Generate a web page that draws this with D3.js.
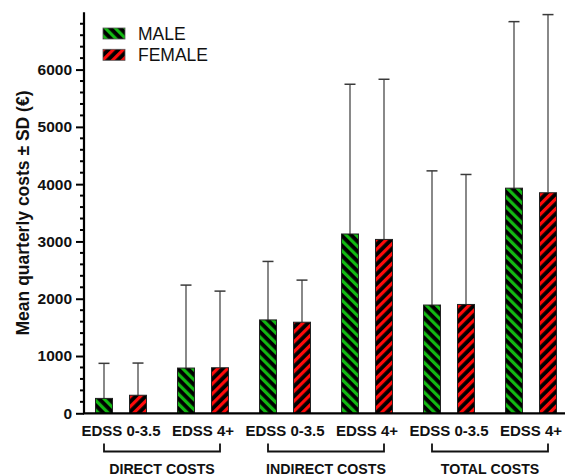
<!DOCTYPE html>
<html>
<head>
<meta charset="utf-8">
<script src="https://cdn.jsdelivr.net/npm/d3@7"></script>
<style>
  body { margin: 0; background: #fff; }
  svg { display: block; font-family: "Liberation Sans", Arial, sans-serif; }
</style>
</head>
<body>
<div id="chart"></div>
<script>
// data
const groups = ["EDSS 0-3.5", "EDSS 4+", "EDSS 0-3.5 ", "EDSS 4+ ", "EDSS 0-3.5  ", "EDSS 4+  "];
const categories = ["DIRECT COSTS", "INDIRECT COSTS", "TOTAL COSTS"];
const series = ["MALE", "FEMALE"];
const maleMean = [260, 790, 1630, 3130, 1890, 3930];
const maleSD = [612, 1448, 1021, 2614, 2342, 2907];
const femaleMean = [315, 795, 1590, 3035, 1900, 3850];
const femaleSD = [562, 1338, 735, 2796, 2269, 3110];
const yTicks = [0, 1000, 2000, 3000, 4000, 5000, 6000];

const W = 565, H = 476;
const colors = { MALE: "#12b812", FEMALE: "#ff0a0a" };

const svg = d3.select("#chart").append("svg")
    .attr("width", W)
    .attr("height", H);

// stripe patterns
const defs = svg.append("defs");
series.forEach(s => {
    const p = defs.append("pattern")
        .attr("id", "hatch-" + s)
        .attr("patternUnits", "userSpaceOnUse")
        .attr("width", 7)
        .attr("height", 8)
        .attr("patternTransform", s === "MALE" ? "rotate(-45)" : "rotate(45)");
    p.append("rect").attr("width", 7).attr("height", 8).attr("fill", "#000");
    p.append("rect").attr("width", 3.2).attr("height", 8).attr("fill", colors[s]);
});

const axisX = 84;
const y = d3.scaleLinear().domain([0, 7000]).range([413.3, 12.3]);

const x0 = d3.scaleBand().domain(groups).range([80, 572]).padding(0);
const x1 = d3.scaleBand().domain(series).range([-25.5, 25.5]).paddingInner(0.5).paddingOuter(0);

const rows = groups.map((g, i) => ({
    group: g,
    bars: [
        { s: "MALE", mean: maleMean[i], sd: maleSD[i] },
        { s: "FEMALE", mean: femaleMean[i], sd: femaleSD[i] }
    ]
}));

// error bars (behind the bars)
const gErr = svg.append("g");
rows.forEach(r => {
    r.bars.forEach(b => {
        const cx = x0(r.group) + x0.bandwidth() / 2 + x1(b.s) + x1.bandwidth() / 2;
        gErr.append("line")
            .attr("x1", cx).attr("x2", cx)
            .attr("y1", y(b.mean)).attr("y2", y(b.mean + b.sd))
            .attr("stroke", "#3a3a3a").attr("stroke-width", 1.2);
        gErr.append("line")
            .attr("x1", cx - 5.5).attr("x2", cx + 5.5)
            .attr("y1", y(b.mean + b.sd)).attr("y2", y(b.mean + b.sd))
            .attr("stroke", "#3a3a3a").attr("stroke-width", 1.5);
    });
});

// bars
const gBars = svg.append("g");
rows.forEach(r => {
    gBars.selectAll(null)
        .data(r.bars)
        .enter()
        .append("rect")
        .attr("x", d => x0(r.group) + x0.bandwidth() / 2 + x1(d.s))
        .attr("y", d => y(d.mean))
        .attr("width", x1.bandwidth())
        .attr("height", d => y(0) - y(d.mean))
        .attr("fill", d => `url(#hatch-${d.s})`)
        .attr("stroke", "#222")
        .attr("stroke-width", 1);
});

// y axis
const yAxis = svg.append("g")
    .attr("transform", `translate(${axisX},0)`)
    .call(d3.axisLeft(y).tickValues(yTicks).tickFormat(d3.format("d")).tickSize(8).tickPadding(4));
yAxis.select(".domain").attr("stroke-width", 2.2).attr("d", `M0,${y(7000)}V${y(0)}`);
yAxis.selectAll(".tick line").attr("stroke-width", 2);
yAxis.selectAll(".tick text")
    .attr("font-family", "Liberation Sans, Arial, sans-serif")
    .attr("font-size", 15.5)
    .attr("font-weight", "bold")
    .attr("fill", "#111");

// minor ticks
const minor = d3.range(0, 7001, 200).filter(v => v % 1000 !== 0);
svg.append("g").selectAll("line")
    .data(minor)
    .enter()
    .append("line")
    .attr("x1", axisX - 4).attr("x2", axisX)
    .attr("y1", d => y(d)).attr("y2", d => y(d))
    .attr("stroke", "#000").attr("stroke-width", 2);

// x axis line
svg.append("line")
    .attr("x1", axisX - 1).attr("x2", W)
    .attr("y1", y(0)).attr("y2", y(0))
    .attr("stroke", "#000").attr("stroke-width", 2.2);

// group labels
svg.append("g").selectAll("text")
    .data(groups)
    .enter()
    .append("text")
    .attr("x", d => x0(d) + x0.bandwidth() / 2)
    .attr("y", 435.5)
    .attr("text-anchor", "middle")
    .attr("font-size", 15)
    .attr("font-weight", "bold")
    .attr("fill", "#111")
    .text(d => d.trim());

// category brackets + labels
categories.forEach((c, i) => {
    const gA = groups[i * 2], gB = groups[i * 2 + 1];
    const xa = x0(gA) + x0.bandwidth() / 2 + x1("MALE") + x1.bandwidth() / 2;
    const xb = x0(gB) + x0.bandwidth() / 2 + x1("FEMALE") + x1.bandwidth() / 2;
    svg.append("path")
        .attr("d", `M${xa},443.5V451.5H${xb}V443.5`)
        .attr("fill", "none")
        .attr("stroke", "#111")
        .attr("stroke-width", 1.8);
    svg.append("text")
        .attr("x", (xa + xb) / 2)
        .attr("y", 474.3)
        .attr("text-anchor", "middle")
        .attr("font-size", 14.2)
        .attr("font-weight", "bold")
        .attr("fill", "#111")
        .text(c);
});

// y axis title
svg.append("text")
    .attr("transform", `translate(29.3,213) rotate(-90)`)
    .attr("text-anchor", "middle")
    .attr("font-size", 17.5)
    .attr("font-weight", "bold")
    .attr("fill", "#111")
    .text("Mean quarterly costs ± SD (€)");

// legend
const legend = svg.append("g").attr("transform", "translate(103,28)");
series.forEach((s, i) => {
    legend.append("rect")
        .attr("x", 0)
        .attr("y", i * 21.3)
        .attr("width", 22)
        .attr("height", 11)
        .attr("fill", `url(#hatch-${s})`)
        .attr("stroke", "#555")
        .attr("stroke-width", 0.8);
    legend.append("text")
        .attr("x", 35)
        .attr("y", i * 21.3 + 11.5)
        .attr("font-size", 17.5)
        .attr("fill", "#111")
        .text(s);
});
</script>
</body>
</html>
